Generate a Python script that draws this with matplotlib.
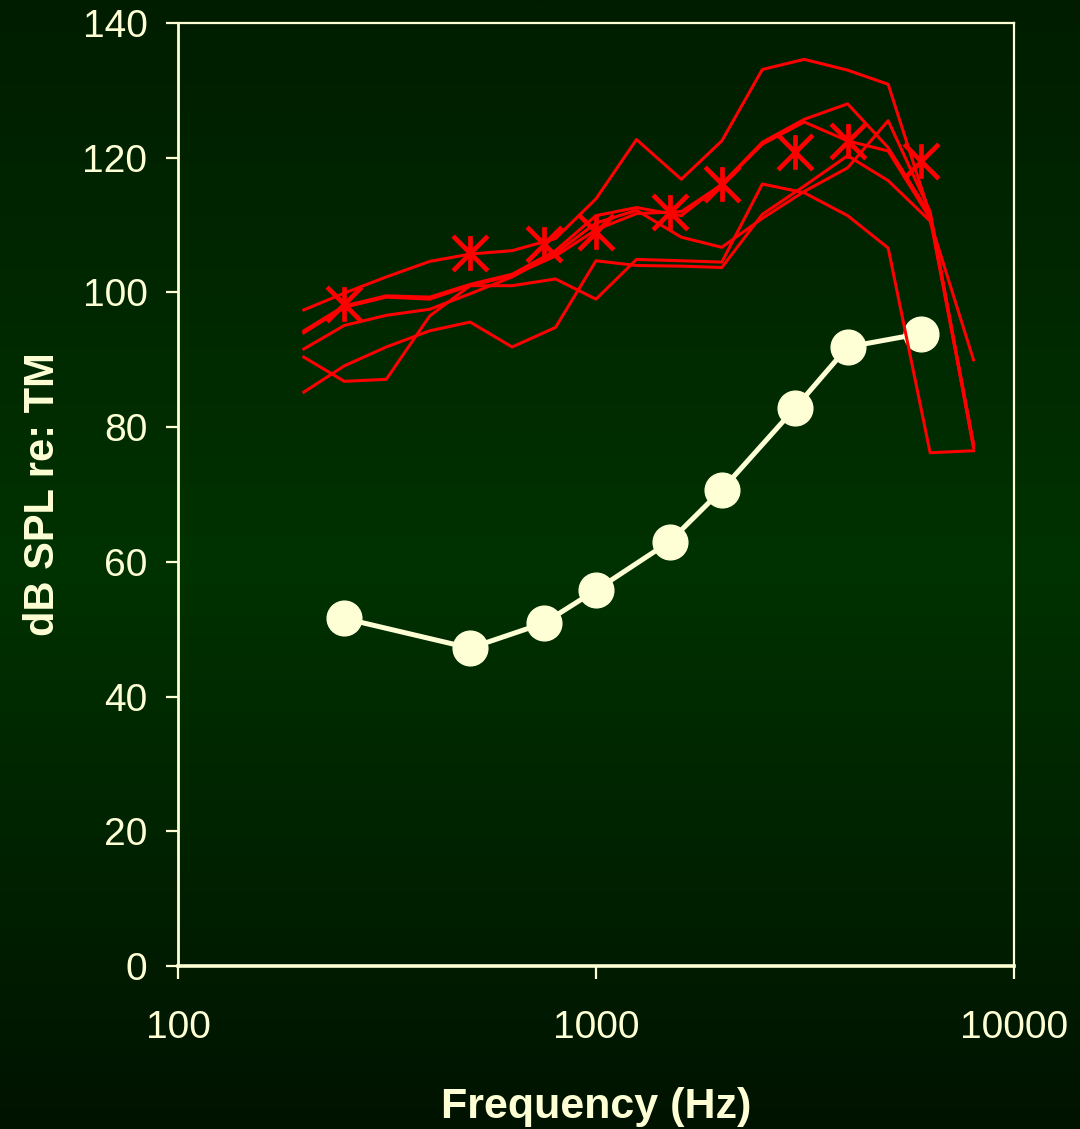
import numpy as np
import matplotlib
matplotlib.use('Agg')
import matplotlib.pyplot as plt
from matplotlib.path import Path
from matplotlib.colors import LinearSegmentedColormap

# 1/3-octave frequencies for the individual red curves
freqs_third = [200, 250, 315, 400, 500, 630, 800, 1000, 1250, 1600, 2000,
               2500, 3150, 4000, 5000, 6300, 8000]

curve_1 = [97.4, 99.9, 102.3, 104.6, 105.7, 106.2, 108.0, 113.9, 122.7, 116.8,
           122.5, 133.1, 134.6, 133.0, 130.9, 111.5, 77.5]
curve_2 = [94.3, 98.0, 99.5, 99.3, 101.2, 102.7, 106.2, 111.4, 112.6, 111.4,
           116.1, 122.3, 125.7, 128.0, 121.5, 111.5, 77.0]
curve_3 = [94.0, 97.8, 99.3, 99.0, 101.0, 102.5, 105.4, 109.3, 111.7, 112.0,
           116.0, 122.0, 125.3, 122.5, 121.0, 111.0, 77.5]
curve_4 = [91.6, 95.1, 96.6, 97.5, 99.8, 102.3, 105.8, 110.3, 112.2, 108.2,
           106.7, 111.0, 115.0, 118.5, 125.5, 112.0, 77.0]
curve_5 = [90.4, 86.8, 87.1, 96.5, 101.0, 101.0, 102.0, 99.0, 104.9, 104.7,
           104.5, 116.1, 114.8, 111.4, 106.6, 76.2, 76.5]
curve_6 = [85.2, 89.1, 91.9, 94.3, 95.6, 91.9, 94.8, 104.7, 104.0, 103.9,
           103.7, 111.6, 115.8, 120.3, 116.6, 110.6, 90.0]
red_curves = [curve_1, curve_2, curve_3, curve_4, curve_5, curve_6]

# audiometric frequencies
audio_freqs = [250, 500, 750, 1000, 1500, 2000, 3000, 4000, 6000]
asterisk_vals = [98.3, 105.9, 107.2, 108.9, 111.9, 116.1, 120.8, 122.5, 119.5]
threshold_vals = [51.6, 47.2, 50.9, 55.8, 63.0, 70.7, 82.9, 91.9, 93.9]

x_ticks = [100, 1000, 10000]
x_ticklabels = ['100', '1000', '10000']
y_ticks = [0, 20, 40, 60, 80, 100, 120, 140]

cream = '#FFFFD6'
red = '#FF0000'
tick_family, tick_size = 'Liberation Sans', 28

W, H = 1080, 1129
fig = plt.figure(figsize=(W / 100, H / 100), dpi=100)

# background gradient
bg = fig.add_axes([0, 0, 1, 1], zorder=0)
cmap = LinearSegmentedColormap.from_list(
    'g', [(0.0, '#001300'), (0.5, '#003200'), (1.0, '#001D00')])
grad = np.linspace(0, 1, 512).reshape(-1, 1)
bg.imshow(grad, aspect='auto', extent=[0, 1, 0, 1], cmap=cmap, origin='lower')
bg.set_axis_off()

ax = fig.add_axes([178 / W, 1 - 966 / H, (1014 - 178) / W, (966 - 23) / H], zorder=1)
ax.patch.set_alpha(0)

ax.plot(audio_freqs, threshold_vals, color=cream, lw=3.6, marker='o',
        markersize=25, markerfacecolor=cream, markeredgecolor=cream,
        solid_capstyle='round', zorder=2)

for c in red_curves:
    ax.plot(freqs_third, c, color=red, lw=2.2, zorder=3)

ast = Path([(0, -1), (0, 1), (-1, -1), (1, 1), (-1, 1), (1, -1)],
           [Path.MOVETO, Path.LINETO] * 3)
ax.plot(audio_freqs, asterisk_vals, linestyle='none', marker=ast,
        markersize=25, markeredgewidth=3.4, markeredgecolor=red,
        markerfacecolor=red, zorder=4)

ax.set_xscale('log')
ax.set_xlim(100, 10000)
ax.set_ylim(0, 140)
ax.set_xticks(x_ticks)
ax.set_xticklabels(x_ticklabels)
ax.xaxis.set_minor_locator(matplotlib.ticker.NullLocator())
ax.set_yticks(y_ticks)

for s in ['top', 'right']:
    ax.spines[s].set_color(cream)
    ax.spines[s].set_linewidth(1.6)
ax.spines['left'].set_color(cream)
ax.spines['left'].set_linewidth(2.0)
ax.spines['bottom'].set_color(cream)
ax.spines['bottom'].set_linewidth(2.6)

ax.tick_params(axis='y', direction='out', length=9, width=1.6, color=cream,
               labelcolor=cream, labelsize=tick_size, pad=13)
ax.tick_params(axis='x', direction='out', length=9, width=1.6, color=cream,
               labelcolor=cream, labelsize=tick_size, pad=23)
for lab in ax.get_yticklabels() + ax.get_xticklabels():
    lab.set_fontfamily(tick_family)

ax.set_xlabel('Frequency (Hz)', color=cream, fontsize=31, fontweight='bold',
              family='Liberation Sans', labelpad=29)
ax.set_ylabel('dB SPL re: TM', color=cream, fontsize=30, fontweight='bold',
              family='Liberation Sans', labelpad=14)

fig.savefig('out.png', dpi=100)
